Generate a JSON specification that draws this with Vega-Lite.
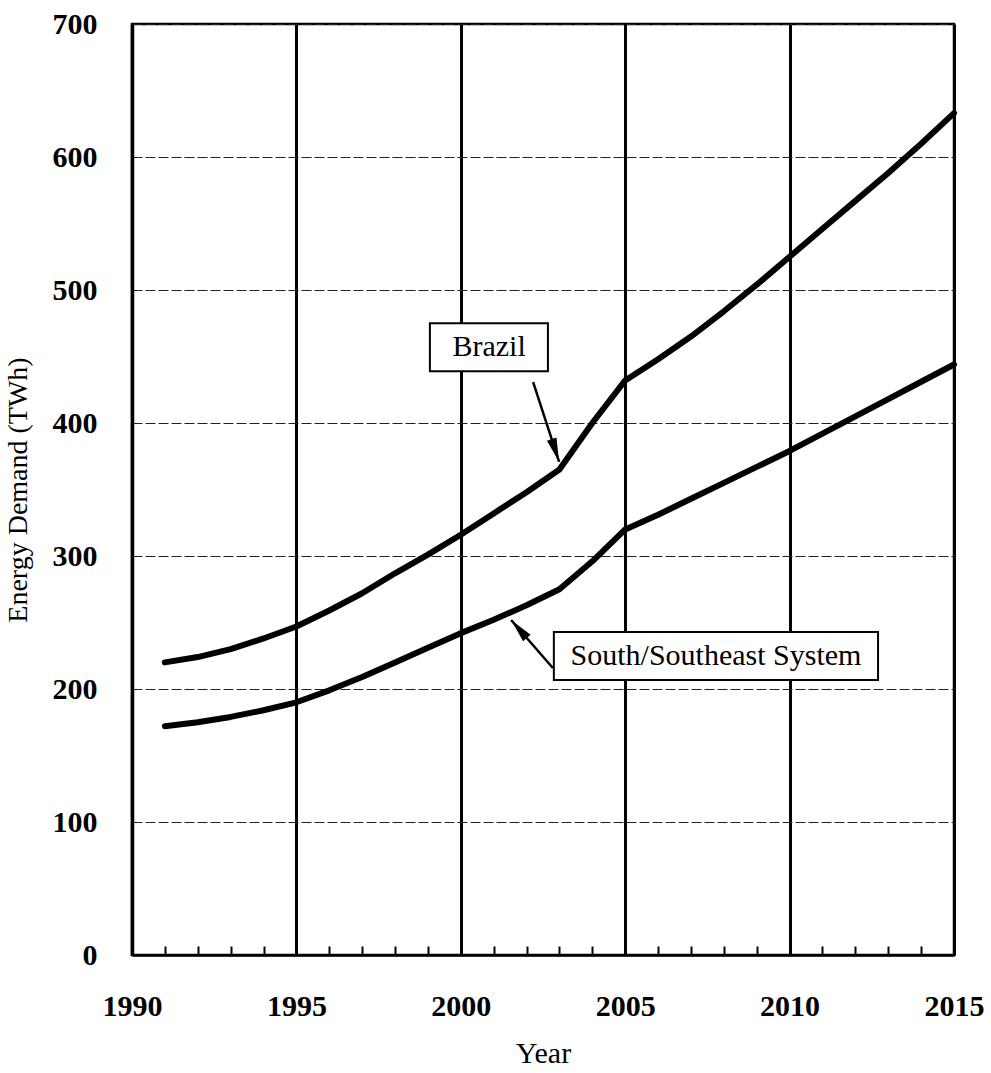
{
  "$schema": "https://vega.github.io/schema/vega-lite/v6.json",
  "width": 822,
  "height": 931,
  "autosize": {"type": "none"},
  "padding": {"left": 132, "top": 24, "right": 37, "bottom": 118},
  "background": "white",
  "config": {
    "font": "Liberation Serif",
    "view": {"stroke": "black", "strokeWidth": 2.5}
  },
  "resolve": {"axis": {"x": "independent", "y": "independent"}},
  "datasets": {
    "series": [
      {"series": "Brazil", "year": 1991, "value": 220},
      {"series": "Brazil", "year": 1992, "value": 224},
      {"series": "Brazil", "year": 1993, "value": 230},
      {"series": "Brazil", "year": 1994, "value": 238},
      {"series": "Brazil", "year": 1995, "value": 247},
      {"series": "Brazil", "year": 1996, "value": 259},
      {"series": "Brazil", "year": 1997, "value": 272},
      {"series": "Brazil", "year": 1998, "value": 287},
      {"series": "Brazil", "year": 1999, "value": 301},
      {"series": "Brazil", "year": 2000, "value": 316},
      {"series": "Brazil", "year": 2001, "value": 332},
      {"series": "Brazil", "year": 2002, "value": 348},
      {"series": "Brazil", "year": 2003, "value": 365},
      {"series": "Brazil", "year": 2004, "value": 400},
      {"series": "Brazil", "year": 2005, "value": 432},
      {"series": "Brazil", "year": 2006, "value": 448},
      {"series": "Brazil", "year": 2007, "value": 465},
      {"series": "Brazil", "year": 2008, "value": 484},
      {"series": "Brazil", "year": 2009, "value": 504},
      {"series": "Brazil", "year": 2010, "value": 525},
      {"series": "Brazil", "year": 2011, "value": 546},
      {"series": "Brazil", "year": 2012, "value": 567},
      {"series": "Brazil", "year": 2013, "value": 588},
      {"series": "Brazil", "year": 2014, "value": 610},
      {"series": "Brazil", "year": 2015, "value": 633},
      {"series": "South/Southeast System", "year": 1991, "value": 172},
      {"series": "South/Southeast System", "year": 1992, "value": 175},
      {"series": "South/Southeast System", "year": 1993, "value": 179},
      {"series": "South/Southeast System", "year": 1994, "value": 184},
      {"series": "South/Southeast System", "year": 1995, "value": 190},
      {"series": "South/Southeast System", "year": 1996, "value": 199},
      {"series": "South/Southeast System", "year": 1997, "value": 209},
      {"series": "South/Southeast System", "year": 1998, "value": 220},
      {"series": "South/Southeast System", "year": 1999, "value": 231},
      {"series": "South/Southeast System", "year": 2000, "value": 242},
      {"series": "South/Southeast System", "year": 2001, "value": 252},
      {"series": "South/Southeast System", "year": 2002, "value": 263},
      {"series": "South/Southeast System", "year": 2003, "value": 275},
      {"series": "South/Southeast System", "year": 2004, "value": 296},
      {"series": "South/Southeast System", "year": 2005, "value": 320},
      {"series": "South/Southeast System", "year": 2006, "value": 331},
      {"series": "South/Southeast System", "year": 2007, "value": 343},
      {"series": "South/Southeast System", "year": 2008, "value": 355},
      {"series": "South/Southeast System", "year": 2009, "value": 367},
      {"series": "South/Southeast System", "year": 2010, "value": 379},
      {"series": "South/Southeast System", "year": 2011, "value": 392},
      {"series": "South/Southeast System", "year": 2012, "value": 405},
      {"series": "South/Southeast System", "year": 2013, "value": 418},
      {"series": "South/Southeast System", "year": 2014, "value": 431},
      {"series": "South/Southeast System", "year": 2015, "value": 444}
    ],
    "notes": [
      {"name": "Brazil", "tx": 2000.86, "ty": 457, "bx1": 1999.06, "bx2": 2002.65, "by1": 439, "by2": 475, "ax1": 2002.2, "ay1": 430.8, "ax2": 2002.99, "ay2": 370.7},
      {"name": "South/Southeast System", "tx": 2007.76, "ty": 224.8, "bx1": 2002.83, "bx2": 2012.69, "by1": 206.8, "by2": 242.9, "ax1": 2002.8, "ay1": 215.8, "ax2": 2001.53, "ay2": 251.9}
    ]
  },
  "layer": [
    {
      "data": {"name": "series"},
      "mark": {"type": "line", "color": "black", "strokeWidth": 6, "strokeCap": "round", "strokeJoin": "round"},
      "encoding": {
        "x": {
          "field": "year", "type": "quantitative", "title": "Year",
          "scale": {"domain": [1990, 2015], "nice": false, "zero": false},
          "axis": {
            "values": [1990,1991,1992,1993,1994,1995,1996,1997,1998,1999,2000,2001,2002,2003,2004,2005,2006,2007,2008,2009,2010,2011,2012,2013,2014,2015],
            "format": "d",
            "labelExpr": "datum.value % 5 === 0 ? datum.label : ''",
            "labelOverlap": false,
            "labelFlush": false,
            "grid": true,
            "gridColor": "black",
            "gridWidth": {"condition": {"test": "datum.value % 5 === 0", "value": 3}, "value": 0},
            "tickSize": -9,
            "tickWidth": 2,
            "tickColor": "black",
            "domainColor": "black",
            "domainWidth": 2.5,
            "labelFontSize": 30,
            "labelFontWeight": "bold",
            "labelColor": "black",
            "labelPadding": 45,
            "titleFontSize": 30,
            "titleFontWeight": "normal",
            "titleColor": "black",
            "titlePadding": 17
          }
        },
        "y": {
          "field": "value", "type": "quantitative", "title": "Energy Demand (TWh)",
          "scale": {"domain": [0, 700], "nice": false},
          "axis": {
            "values": [0, 100, 200, 300, 400, 500, 600, 700],
            "grid": true,
            "gridColor": "#222",
            "gridWidth": 1.2,
            "gridDash": [10, 3],
            "ticks": false,
            "domainColor": "black",
            "domainWidth": 3.5,
            "labelFontSize": 30,
            "labelFontWeight": "bold",
            "labelColor": "black",
            "labelPadding": 35,
            "titleFontSize": 28,
            "titleFontWeight": "normal",
            "titleColor": "black",
            "titlePadding": 20
          }
        },
        "detail": {"field": "series", "type": "nominal"}
      }
    },
    {
      "data": {"name": "notes"},
      "mark": {"type": "rule", "color": "black", "strokeWidth": 2.5},
      "encoding": {
        "x": {"field": "ax1", "type": "quantitative", "axis": null},
        "y": {"field": "ay1", "type": "quantitative", "axis": null},
        "x2": {"field": "ax2"},
        "y2": {"field": "ay2"}
      }
    },
    {
      "data": {"name": "notes"},
      "transform": [{"filter": "datum.name === 'Brazil'"}],
      "mark": {"type": "point", "shape": "M0,0 L-0.5,2.4 L0.5,2.4 Z", "filled": true, "color": "black", "opacity": 1, "size": 400, "angle": 162},
      "encoding": {
        "x": {"field": "ax2", "type": "quantitative", "axis": null},
        "y": {"field": "ay2", "type": "quantitative", "axis": null}
      }
    },
    {
      "data": {"name": "notes"},
      "transform": [{"filter": "datum.name !== 'Brazil'"}],
      "mark": {"type": "point", "shape": "M0,0 L-0.5,2.4 L0.5,2.4 Z", "filled": true, "color": "black", "opacity": 1, "size": 400, "angle": 319},
      "encoding": {
        "x": {"field": "ax2", "type": "quantitative", "axis": null},
        "y": {"field": "ay2", "type": "quantitative", "axis": null}
      }
    },
    {
      "data": {"name": "notes"},
      "mark": {"type": "rect", "fill": "white", "stroke": "black", "strokeWidth": 2},
      "encoding": {
        "x": {"field": "bx1", "type": "quantitative", "axis": null},
        "x2": {"field": "bx2"},
        "y": {"field": "by1", "type": "quantitative", "axis": null},
        "y2": {"field": "by2"}
      }
    },
    {
      "data": {"name": "notes"},
      "mark": {"type": "text", "fontSize": 30, "color": "black", "align": "center", "baseline": "middle", "font": "Liberation Serif"},
      "encoding": {
        "x": {"field": "tx", "type": "quantitative", "axis": null},
        "y": {"field": "ty", "type": "quantitative", "axis": null},
        "text": {"field": "name", "type": "nominal"}
      }
    }
  ]
}
